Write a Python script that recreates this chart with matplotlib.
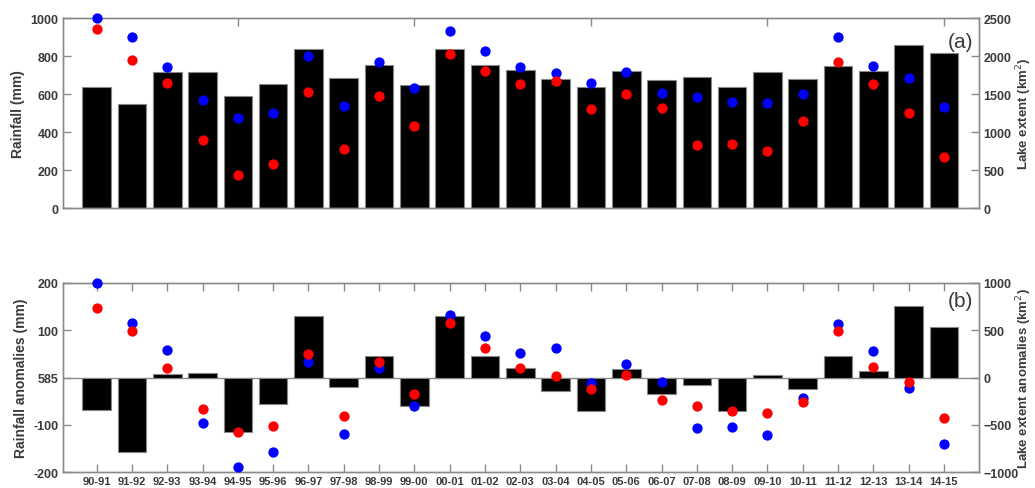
import matplotlib
matplotlib.use("Agg")
import matplotlib.pyplot as plt
import numpy as np

plt.rcParams['font.family'] = ['Liberation Sans', 'DejaVu Sans']

seasons = ["90-91", "91-92", "92-93", "93-94", "94-95", "95-96", "96-97", "97-98",
           "98-99", "99-00", "00-01", "01-02", "02-03", "03-04", "04-05", "05-06",
           "06-07", "07-08", "08-09", "09-10", "10-11", "11-12", "12-13", "13-14", "14-15"]

# Panel (a)
rainfall = [640, 550, 715, 720, 593, 653, 839, 688, 754, 649, 839, 754, 729,
            682, 639, 725, 677, 693, 639, 716, 682, 751, 723, 861, 818]
lake_blue = [2500, 2254, 1860, 1425, 1184, 1250, 2000, 1351, 1930, 1579, 2333, 2070, 1864,
             1781, 1645, 1798, 1518, 1461, 1404, 1382, 1500, 2259, 1877, 1711, 1329]
lake_red = [2360, 1952, 1654, 895, 434, 583, 1531, 781, 1474, 1079, 2026, 1803, 1632,
            1675, 1307, 1504, 1325, 838, 842, 759, 1149, 1930, 1640, 1259, 675]

# Panel (b)
rain_anom = [-69, -158, 7, 10, -115, -55, 131, -20, 46, -59, 131, 46, 21,
             -28, -70, 18, -35, -15, -70, 6, -25, 45, 15, 152, 108]
anom_blue = [1000, 581, 292, -479, -940, -785, 162, -595, 102, -296, 662, 437, 264,
             310, -56, 141, -42, -535, -521, -606, -211, 563, 278, -106, -697]
anom_red = [732, 493, 106, -335, -577, -511, 246, -405, 165, -176, 574, 310, 106,
            21, -120, 28, -236, -299, -352, -373, -254, 493, 113, -42, -430]

left_ticks_a = [0, 200, 400, 600, 800, 1000]
right_ticks_a = [0, 500, 1000, 1500, 2000, 2500]
left_ticks_b = [-200, -100, 0, 100, 200]
left_labels_b = ["-200", "-100", "585", "100", "200"]
right_ticks_b = [-1000, -500, 0, 500, 1000]

spine_c = '#8a8a8a'
text_c = '#3a3a3a'
W, H = 1035, 489
fig = plt.figure(figsize=(W / 100, H / 100), dpi=100)

x = np.arange(len(seasons))
xl = (-0.96, len(seasons))

def style(ax):
    for s in ax.spines.values():
        s.set_color(spine_c)
        s.set_linewidth(1.0)
    ax.tick_params(direction='in', length=6, width=1, color=spine_c,
                   labelcolor=text_c, pad=3)
    ax.tick_params(axis='y', labelsize=9)
    ax.tick_params(axis='x', labelsize=8)
    for lab in ax.get_xticklabels() + ax.get_yticklabels():
        lab.set_fontweight('bold')

def frac(l, t, r, b):
    return [l / W, 1 - b / H, (r - l) / W, (b - t) / H]

AX_L, AX_R = 62.7, 979.3
right_label_x = (1024.5 - AX_L) / (AX_R - AX_L)

# Top panel
ax1 = fig.add_axes(frac(AX_L, 19.3, AX_R, 209.3))
ax1.bar(x, rainfall, width=0.81, color='black', edgecolor='#888888', linewidth=0.8, zorder=2)
ax1.set_xlim(*xl)
ax1.set_ylim(0, 1000)
ax1.set_yticks(left_ticks_a)
ax1.set_xticks(x[4::5])
ax1.set_xticklabels([])
ax1.tick_params(axis='x', top=True, bottom=False)
style(ax1)
ax1.set_ylabel("Rainfall (mm)", fontsize=10, fontweight='bold', color=text_c, labelpad=4)
ax1b = ax1.twinx()
ax1b.scatter(x, lake_blue, s=55, color='#0000ff', zorder=3, clip_on=False, linewidths=0)
ax1b.scatter(x, lake_red, s=55, color='#ff0000', zorder=3, clip_on=False, linewidths=0)
ax1b.set_ylim(0, 2500)
ax1b.set_yticks(right_ticks_a)
ax1b.set_xlim(*xl)
style(ax1b)
ax1b.set_ylabel("Lake extent (km$^2$)", fontsize=9.5, fontweight='bold', color=text_c)
ax1b.yaxis.set_label_coords(right_label_x, 0.5)
ax1b.yaxis.label.set_rotation_mode('default')
ax1b.yaxis.label.set_verticalalignment('center')
ax1b.yaxis.label.set_horizontalalignment('center')
ax1.text(0.993, 0.88, "(a)", transform=ax1.transAxes, ha='right', va='center',
         fontsize=15, color=text_c, zorder=5)

# Bottom panel
ax2 = fig.add_axes(frac(AX_L, 284.0, AX_R, 473.3))
ax2.bar(x, rain_anom, width=0.81, color='black', edgecolor='#888888', linewidth=0.8, zorder=2)
ax2.axhline(0, color=spine_c, linewidth=1.0, zorder=1)
ax2.set_xlim(*xl)
ax2.set_ylim(-200, 200)
ax2.set_yticks(left_ticks_b)
ax2.set_yticklabels(left_labels_b)
ax2.set_xticks(x)
ax2.set_xticklabels(seasons)
ax2.tick_params(axis='x', top=True, bottom=True)
style(ax2)
ax2.set_ylabel("Rainfall anomalies (mm)", fontsize=10, fontweight='bold', color=text_c, labelpad=4)
ax2b = ax2.twinx()
ax2b.scatter(x, anom_blue, s=55, color='#0000ff', zorder=3, clip_on=False, linewidths=0)
ax2b.scatter(x, anom_red, s=55, color='#ff0000', zorder=3, clip_on=False, linewidths=0)
ax2b.set_ylim(-1000, 1000)
ax2b.set_yticks(right_ticks_b)
ax2b.set_xlim(*xl)
style(ax2b)
ax2b.set_ylabel("Lake extent anomalies (km$^2$)", fontsize=9.5, fontweight='bold', color=text_c)
ax2b.yaxis.set_label_coords(right_label_x, 0.5)
ax2b.yaxis.label.set_rotation_mode('default')
ax2b.yaxis.label.set_verticalalignment('center')
ax2b.yaxis.label.set_horizontalalignment('center')
ax2.text(0.993, 0.906, "(b)", transform=ax2.transAxes, ha='right', va='center',
         fontsize=15, color=text_c, zorder=5)

fig.savefig("out.png", dpi=100)
